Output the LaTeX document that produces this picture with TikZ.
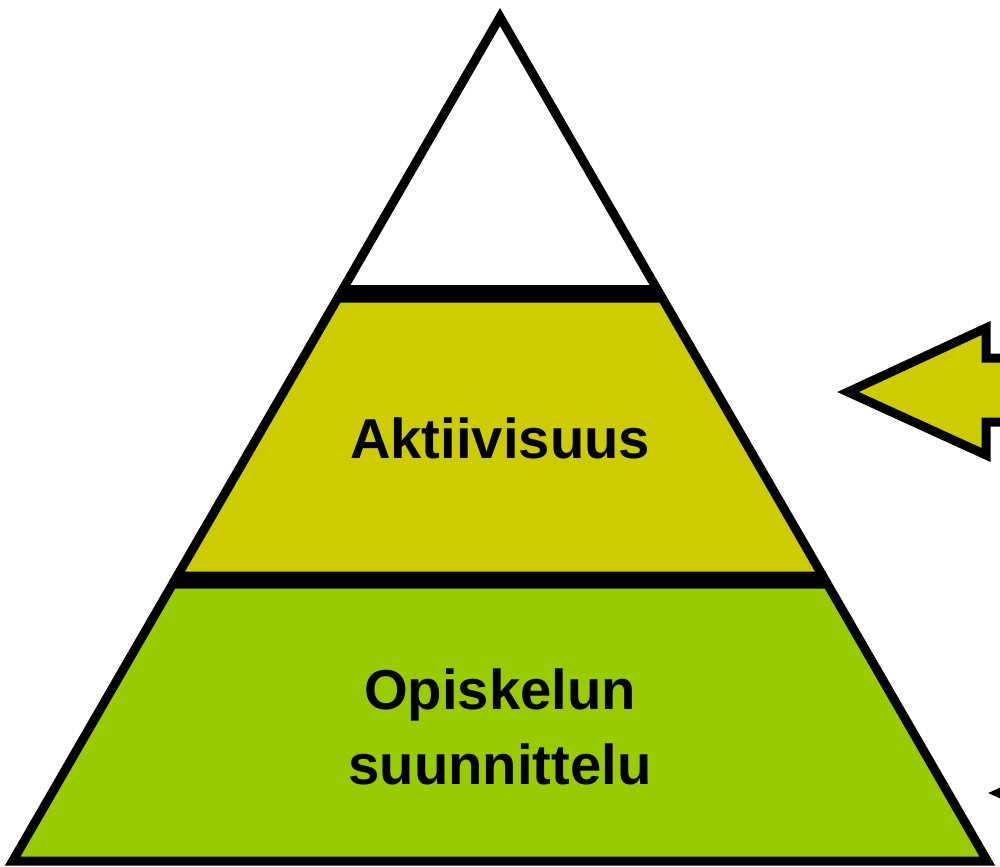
\documentclass[tikz,border=0pt]{standalone}
\usepackage{fontspec}
\setmainfont{Liberation Sans}
\usepackage{tikz}

\definecolor{LayerOlive}{HTML}{CCCC00}
\definecolor{LayerGreen}{HTML}{99CC00}

\begin{document}
\begin{tikzpicture}[
    x=0.02cm, y=-0.02cm,
    line join=miter,
    layer/.style={draw=black, line width=0.18cm},
    label/.style={font=\bfseries\fontsize{32}{43}\selectfont, align=center}
]

\useasboundingbox (0,0) rectangle (1000,866);
\clip (0,0) rectangle (1000,866);

% pyramid layers
\draw[layer, fill=white] (500,17) -- (657.3,289.5) -- (342.7,289.5) -- cycle;
\draw[layer, fill=LayerOlive] (337.8,298) -- (662.2,298) -- (822.8,576) -- (177.2,576) -- cycle;
\draw[layer, fill=LayerGreen] (172.6,584) -- (827.4,584) -- (987.3,861) -- (12.7,861) -- cycle;

\node[label] (activity) at (500,438) {Aktiivisuus};
\node[label] (planning) at (500,727) {Opiskelun\\suunnittelu};

% arrows from the right
\def\headlen{138}
\draw[layer, fill=LayerOlive] (848,392) -- (848+\headlen,328) -- (848+\headlen,358)
    -- (1040,358) -- (1040,422) -- (848+\headlen,422) -- (848+\headlen,455) -- cycle;
\draw[layer, fill=LayerGreen] (999,793) -- (999+\headlen,729) -- (999+\headlen,759)
    -- (1200,759) -- (1200,823) -- (999+\headlen,823) -- (999+\headlen,856) -- cycle;

\end{tikzpicture}
\end{document}
